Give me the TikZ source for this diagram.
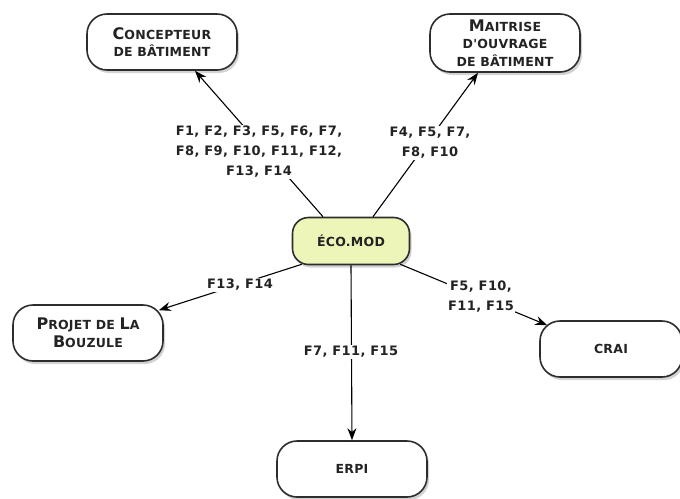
\documentclass[tikz,border=0pt]{standalone}
\usepackage{fontspec}
\setmainfont{DejaVu Sans}
\newfontfamily\boxfont[LetterSpace=2]{DejaVu Sans Bold}
\newfontfamily\labfont[LetterSpace=3]{DejaVu Sans Bold}
\usetikzlibrary{shadows,arrows.meta,calc}
\newcommand\bg[1]{{\fontsize{16}{18}\selectfont #1}}
\definecolor{ecofill}{RGB}{238,245,185}
\definecolor{edgegray}{RGB}{45,45,45}
\definecolor{txt}{RGB}{35,35,35}
\begin{document}
\begin{tikzpicture}[x=1pt,y=-1pt,
  pill/.style={draw=edgegray, line width=1.6pt, fill=white, rounded corners=20pt,
    minimum width=150pt, minimum height=56pt, align=center, text=txt,
    font=\boxfont\fontsize{12.5}{17.5}\selectfont, inner sep=2pt,
    drop shadow={shadow xshift=2pt, shadow yshift=-3pt, opacity=0.35}},
  lab/.style={fill=white, align=center, text=txt,
    font=\labfont\fontsize{13}{20}\selectfont, inner sep=1pt},
  link/.style={draw=black, line width=1.1pt, -{Stealth[length=12pt,width=9pt]}}
]
\useasboundingbox (0,0) rectangle (680,498);
\node[pill] (conc) at (162,42) {\bg{C}ONCEPTEUR\\DE BÂTIMENT};
\node[pill, minimum height=58pt] (mait) at (505,43) {\bg{M}AITRISE\\D'OUVRAGE\\DE BÂTIMENT};
\node[pill, fill=ecofill, minimum width=117pt, minimum height=47pt, rounded corners=16pt] (eco) at (351,241) {ÉCO.MOD};
\node[pill] (proj) at (88,333) {\bg{P}ROJET DE \bg{L}A\\\bg{B}OUZULE};
\node[pill, minimum width=142pt] (crai) at (611,349) {CRAI};
\node[pill] (erpi) at (352,469) {ERPI};

\draw[link] ($(eco.north)+(-28,0)$) -- ($(conc.south)+(33,0)$);
\draw[link] ($(eco.north)+(22,0)$) -- ($(mait.south)+(-27,0)$);
\draw[link] ($(eco.south west)+(10,-1)$) -- ($(proj.north east)+(-5,6)$);
\draw[link] ($(eco.south east)+(-10,-1)$) -- ($(crai.north west)+(8,5)$);
\draw[link] (eco.south) -- (erpi.north);

\node[lab] (l1) at (259,152) {F1, F2, F3, F5, F6, F7,\\F8, F9, F10, F11, F12,\\F13, F14};
\node[lab] (l2) at (430,143) {F4, F5, F7,\\F8, F10};
\node[lab] (l3) at (240,285) {F13, F14};
\node[lab] (l4) at (481,297) {F5, F10,\\F11, F15};
\node[lab] (l5) at (351,352) {F7, F11, F15};
\end{tikzpicture}
\end{document}
